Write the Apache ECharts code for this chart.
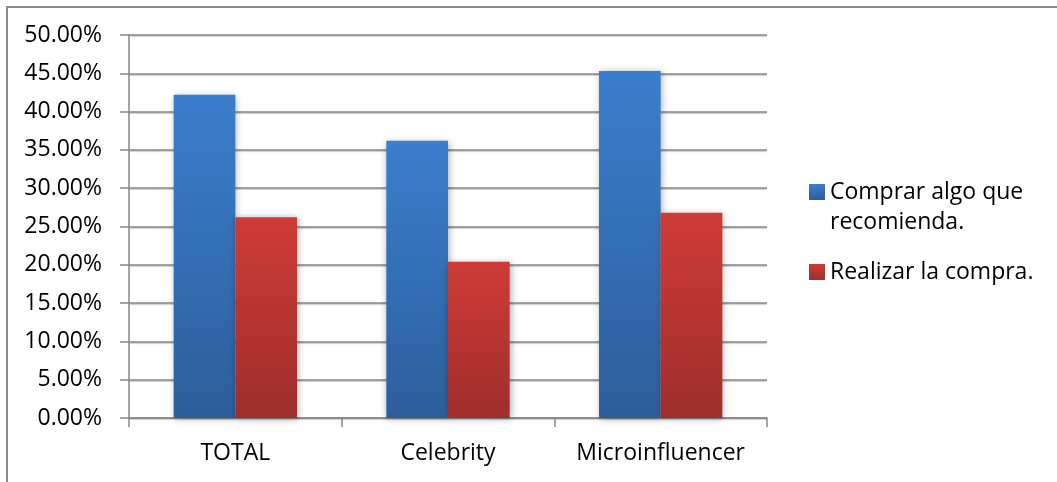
<!DOCTYPE html>
<html>
<head>
<meta charset="utf-8">
<script src="https://cdn.jsdelivr.net/npm/echarts@6/dist/echarts.min.js"></script>
<style>
  html, body { margin: 0; padding: 0; background: #fff; }
  #frame { position: absolute; left: 6px; top: 6px; width: 1051px; height: 476px;
           border-left: 2px solid #8c8c8c; border-top: 2px solid #8c8c8c; box-sizing: border-box; }
  #chart { position: absolute; left: 0; top: 0; width: 1057px; height: 482px; }
</style>
</head>
<body>
<div id="frame"></div>
<div id="chart"></div>
<script>
// Categories and the two series (share of respondents, %)
const categories = ['TOTAL', 'Celebrity', 'Microinfluencer'];
const seriesNames = ['Comprar algo que recomienda.', 'Realizar la compra.'];
const comprarValues = [42.2, 36.2, 45.3];
const realizarValues = [26.2, 20.4, 26.8];
const yTicks = { min: 0, max: 50, interval: 5 };

const FONT = 'Open Sans';
const FS = 23;

function grad(top, bottom) {
  return new echarts.graphic.LinearGradient(0, 0, 0, 1, [
    { offset: 0, color: top }, { offset: 1, color: bottom }
  ]);
}

const barShadow = { shadowBlur: 7, shadowColor: 'rgba(0,0,0,0.35)', shadowOffsetX: 1, shadowOffsetY: 1 };
const legendText = { fontFamily: FONT, fontSize: FS, color: '#000', lineHeight: 30 };

const chart = echarts.init(document.getElementById('chart'), null, { renderer: 'canvas' });
chart.setOption({
  animation: false,
  backgroundColor: 'transparent',
  grid: { left: 129, right: 290, top: 35, bottom: 64 },
  legend: [
    {
      // leading blank line keeps the first text line level with the swatch
      data: [seriesNames[0]], orient: 'vertical', left: 809, top: 147, padding: 0,
      itemWidth: 16, itemHeight: 16, icon: 'rect', itemGap: 6,
      formatter: () => '\nComprar algo que\nrecomienda.',
      textStyle: legendText
    },
    {
      data: [seriesNames[1]], orient: 'vertical', left: 809, top: 257, padding: 0,
      itemWidth: 16, itemHeight: 16, icon: 'rect',
      textStyle: legendText
    }
  ],
  xAxis: {
    type: 'category', data: categories, boundaryGap: true,
    axisLine: { lineStyle: { color: '#868686', width: 1.5 } },
    axisTick: { show: true, interval: 0, length: 9, lineStyle: { color: '#868686', width: 1.5 } },
    axisLabel: { interval: 0, hideOverlap: false, fontFamily: FONT, fontSize: FS, color: '#000', margin: 24 }
  },
  yAxis: {
    type: 'value', min: yTicks.min, max: yTicks.max, interval: yTicks.interval,
    axisLine: { show: true, lineStyle: { color: '#868686', width: 1.5 } },
    axisTick: { show: true, length: 9, lineStyle: { color: '#868686', width: 1.5 } },
    axisLabel: { fontFamily: FONT, fontSize: FS, color: '#000', margin: 27,
                 formatter: v => v.toFixed(2) + '%' },
    splitLine: { lineStyle: { color: '#878787', width: 1.5,
                 shadowColor: 'rgba(0,0,0,0.25)', shadowBlur: 1, shadowOffsetY: 1 } }
  },
  series: [
    {
      name: seriesNames[0], type: 'bar', data: comprarValues,
      barWidth: '29%', barGap: '0%',
      itemStyle: Object.assign({ color: grad('#3b7ecc', '#2d5e9c') }, barShadow)
    },
    {
      name: seriesNames[1], type: 'bar', data: realizarValues,
      barWidth: '29%',
      itemStyle: Object.assign({ color: grad('#cf3b37', '#9e2e2c') }, barShadow)
    }
  ]
});
</script>
</body>
</html>
